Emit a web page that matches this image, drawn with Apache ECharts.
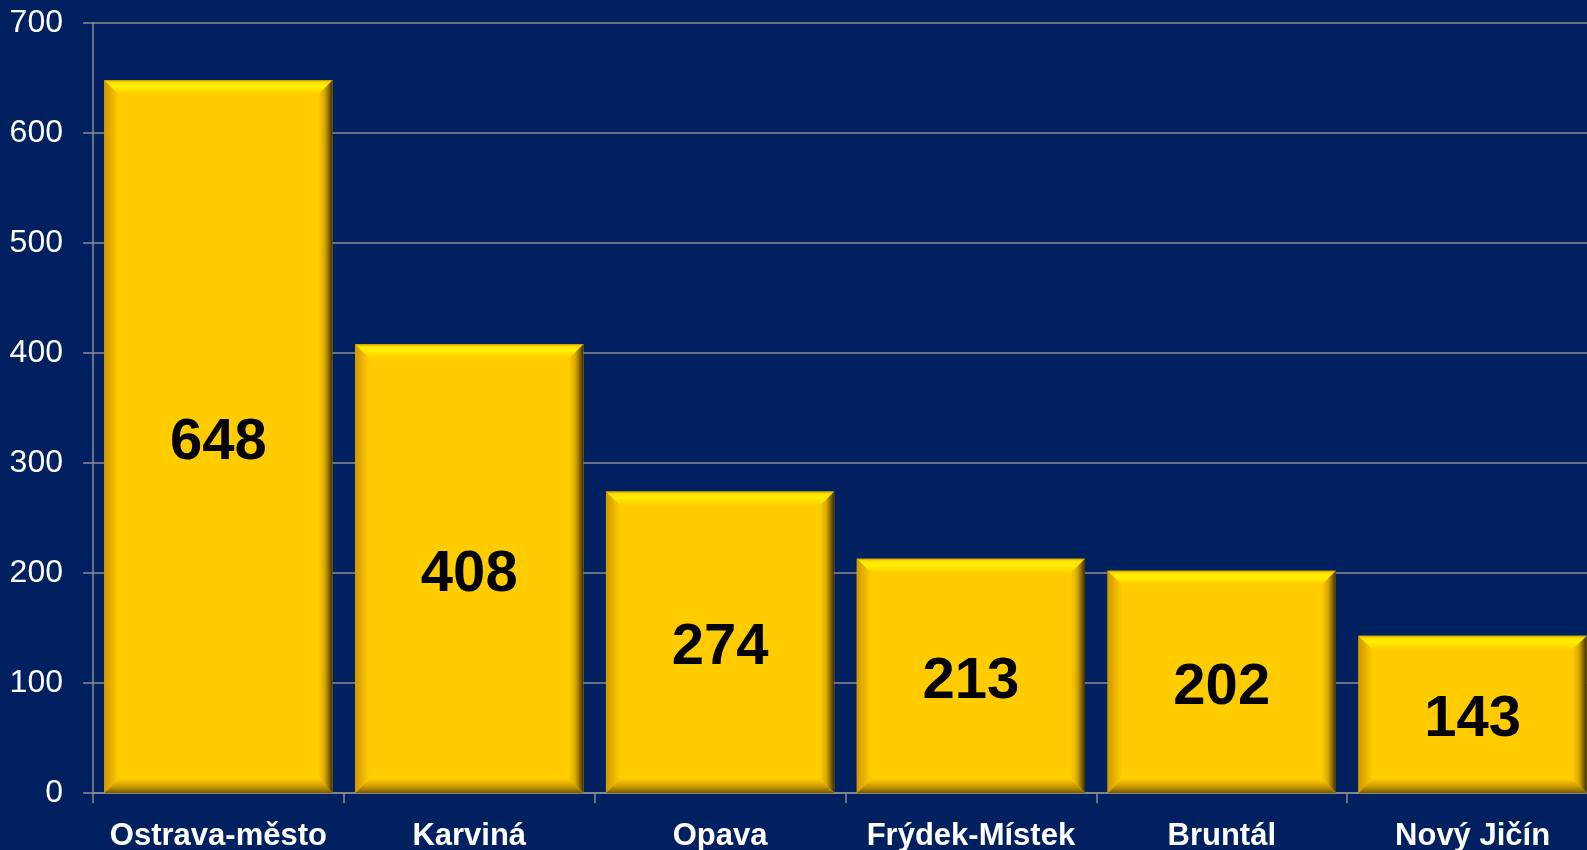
<!DOCTYPE html>
<html>
<head>
<meta charset="utf-8">
<script src="https://cdn.jsdelivr.net/npm/echarts@6/dist/echarts.min.js"></script>
<style>
	html, body { margin: 0; padding: 0; background: #002060; }
	#chart { width: 1587px; height: 850px; }
</style>
</head>
<body>
<div id="chart"></div>
<script>
//	数据
var okresy = ['Ostrava-město', 'Karviná', 'Opava', 'Frýdek-Místek', 'Bruntál', 'Nový Jičín'];
var pocty = [648, 408, 274, 213, 202, 143];
var osaY = [0, 100, 200, 300, 400, 500, 600, 700];

var barChart = echarts.init(document.getElementById('chart'));
var G = echarts.graphic;

//	sloupec se zkosenou hranou
function renderBar(params, api) {
	var base = api.coord([api.value(0), 0]);
	var top = api.coord([api.value(0), api.value(1)]);
	var w = api.size([1, 0])[0] * 0.91;
	var l = base[0] - w / 2, r = base[0] + w / 2;
	var y0 = base[1], y1 = top[1];
	var b = 14; //sirka hrany
	return {
		type: 'group',
		children: [{
			type: 'rect',
			shape: { x: l, y: y1, width: w, height: y0 - y1 },
			style: { fill: '#FFCC00' }
		}, {
			type: 'polygon', //horni hrana
			shape: { points: [[l, y1], [r, y1], [r - b, y1 + b], [l + b, y1 + b]] },
			style: { fill: new G.LinearGradient(0, 0, 0, 1, [
				{ offset: 0, color: '#C9A000' },
				{ offset: 0.15, color: '#FFE000' },
				{ offset: 0.45, color: '#FFF000' },
				{ offset: 1, color: '#FFCC00' }
			]) }
		}, {
			type: 'polygon', //leva hrana
			shape: { points: [[l, y1], [l + b, y1 + b], [l + b, y0 - b], [l, y0]] },
			style: { fill: new G.LinearGradient(0, 0, 1, 0, [
				{ offset: 0, color: '#D09800' },
				{ offset: 1, color: '#FFCC00' }
			]) }
		}, {
			type: 'polygon', //prava hrana
			shape: { points: [[r, y1], [r, y0], [r - b, y0 - b], [r - b, y1 + b]] },
			style: { fill: new G.LinearGradient(0, 0, 1, 0, [
				{ offset: 0, color: '#FFCC00' },
				{ offset: 0.45, color: '#D8A600' },
				{ offset: 1, color: '#3E3000' }
			]) }
		}, {
			type: 'polygon', //spodni hrana
			shape: { points: [[l, y0], [r, y0], [r - b, y0 - b], [l + b, y0 - b]] },
			style: { fill: new G.LinearGradient(0, 0, 0, 1, [
				{ offset: 0, color: '#FFCC00' },
				{ offset: 0.55, color: '#C89800' },
				{ offset: 1, color: '#7A5C00' }
			]) }
		}, {
			type: 'text',
			style: {
				text: String(api.value(1)),
				x: base[0],
				y: (y0 + y1) / 2 + 6,
				align: 'center',
				verticalAlign: 'middle',
				fill: '#000',
				font: 'bold 58px "Liberation Sans", Arial, sans-serif'
			}
		}]
	};
}

var chartOption = {
	backgroundColor: '#002060',
	animation: false,
	textStyle: { fontFamily: '"Liberation Sans", Arial, sans-serif' },
	grid: {
		left: 93,
		width: 1505,
		top: 23,
		bottom: 57,
		outerBoundsMode: 'none'
	},
	xAxis: {
		type: 'category',
		data: okresy,
		axisLine: { lineStyle: { color: '#8C8C8C', width: 1.5 } },
		axisTick: { show: true, length: 10, lineStyle: { color: '#8C8C8C', width: 1.5 } },
		axisLabel: {
			color: '#fff',
			fontWeight: 'bold',
			fontSize: 31,
			margin: 28,
			interval: 0
		}
	},
	yAxis: {
		type: 'value',
		min: osaY[0],
		max: osaY[osaY.length - 1],
		interval: 100,
		axisLine: { show: true, lineStyle: { color: '#8C8C8C', width: 1.5 } },
		axisTick: { show: true, length: 10, lineStyle: { color: '#8C8C8C', width: 1.5 } },
		splitLine: { show: true, lineStyle: { color: '#8C8C8C', width: 1.5 } },
		axisLabel: {
			color: '#fff',
			fontSize: 32,
			margin: 30
		}
	},
	series: [{
		type: 'custom',
		renderItem: renderBar,
		clip: false,
		data: pocty.map(function(v, i) { return [i, v]; })
	}]
};

barChart.setOption(chartOption);
</script>
</body>
</html>
